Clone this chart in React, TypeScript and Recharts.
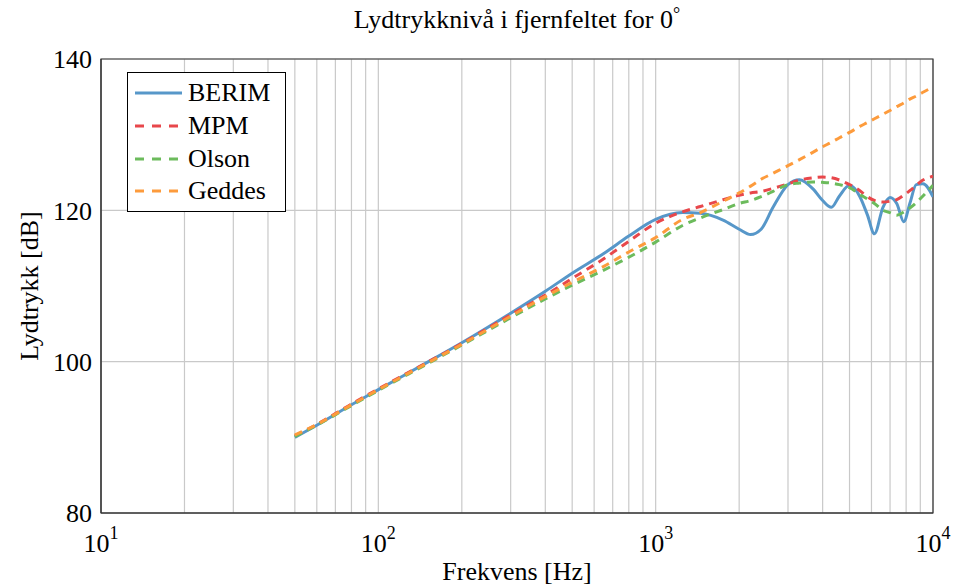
import React from 'react';
import {
  LineChart,
  Line,
  XAxis,
  YAxis,
  CartesianGrid,
  Legend,
  ReferenceArea
} from 'recharts';

// frequency points (Hz) and levels (dB)
const freqs = [50, 60, 80, 100, 150, 200, 300, 400, 500, 650, 800, 1000, 1250, 1450, 1750, 2000, 2200, 2400, 2650, 3000, 3300, 3700, 4000, 4300, 4600, 5000, 5450, 5800, 6150, 6600, 7000, 7400, 7850, 8250, 8700, 9200, 10000];

const berim = [90.0, 91.6, 94.3, 96.3, 99.9, 102.5, 106.4, 109.3, 111.7, 114.3, 116.6, 118.8, 119.7, 119.6, 118.7, 117.5, 116.8, 117.5, 120.4, 123.4, 124.05, 122.8, 121.3, 120.4, 121.9, 123.3, 121.8, 119.4, 116.9, 120.4, 121.7, 120.9, 118.5, 120.9, 123.4, 123.5, 121.8];
const mpm = [90.2, 91.7, 94.4, 96.4, 99.9, 102.4, 106.2, 108.8, 111.0, 113.6, 115.9, 118.3, 119.8, 120.5, 121.4, 122.0, 122.3, 122.5, 122.9, 123.5, 124.0, 124.3, 124.4, 124.3, 124.0, 123.4, 122.6, 121.8, 121.3, 121.1, 121.2, 121.4, 122.0, 122.6, 123.3, 124.0, 124.5];
const olson = [90.1, 91.6, 94.2, 96.2, 99.7, 102.2, 105.8, 108.3, 110.1, 112.1, 113.8, 115.8, 118.0, 119.0, 120.1, 120.9, 121.3, 121.8, 122.5, 123.4, 123.6, 123.75, 123.7, 123.6, 123.4, 123.0, 122.1, 121.5, 120.9, 120.0, 119.7, 119.35, 119.8, 120.3, 121.0, 121.9, 123.3];
const geddes = [90.3, 91.7, 94.3, 96.3, 99.8, 102.3, 106.0, 108.6, 110.5, 112.6, 114.5, 116.4, 118.8, 119.7, 121.2, 122.3, 123.2, 124.1, 124.9, 125.9, 126.7, 127.7, 128.4, 129.0, 129.6, 130.3, 131.1, 131.6, 132.1, 132.7, 133.2, 133.7, 134.2, 134.7, 135.1, 135.6, 136.3];

const xTicks = [10, 20, 30, 40, 50, 60, 70, 80, 90, 100, 200, 300, 400, 500, 600, 700, 800, 900, 1000, 2000, 3000, 4000, 5000, 6000, 7000, 8000, 9000, 10000];
const yTicks = [80, 100, 120, 140];

const seriesInfo = [
  { key: 'berim', name: 'BERIM', color: '#5797c9', dash: undefined },
  { key: 'mpm', name: 'MPM', color: '#e8474b', dash: '8 6' },
  { key: 'olson', name: 'Olson', color: '#6cbb5c', dash: '8 6' },
  { key: 'geddes', name: 'Geddes', color: '#fd9b3c', dash: '8 6' },
];

const chartData = freqs.map((f, i) => ({
  f,
  berim: berim[i],
  mpm: mpm[i],
  olson: olson[i],
  geddes: geddes[i],
}));

const FONT = "'Liberation Serif', 'Times New Roman', serif";

const exponents: Record<number, string> = { 10: '1', 100: '2', 1000: '3', 10000: '4' };

const XTick = ({ x, y, payload }: any) => {
  const exp = exponents[payload.value];
  if (!exp) return null;
  return (
    <text x={x} y={y + 39} textAnchor="middle" fontFamily={FONT} fontSize={26} fill="#000">
      10<tspan dy={-13} fontSize={18}>{exp}</tspan>
    </text>
  );
};

const LegendBox = () => (
  <div
    style={{
      border: '1px solid #000',
      background: '#fff',
      width: 159,
      height: 140,
      boxSizing: 'border-box',
      paddingTop: 4,
      fontFamily: FONT,
      fontSize: 26,
      color: '#000',
    }}
  >
    {seriesInfo.map(s => (
      <div key={s.key} style={{ display: 'flex', alignItems: 'center', height: 32.7 }}>
        <svg width={60} height={10} style={{ flexShrink: 0 }}>
          <line x1={7} x2={54} y1={5} y2={5} stroke={s.color} strokeWidth={3} strokeDasharray={s.dash ? '9 8' : undefined} />
        </svg>
        <span style={{ lineHeight: '26px' }}>{s.name}</span>
      </div>
    ))}
  </div>
);

export default function App() {
  return (
    <div style={{ position: 'absolute', left: 0, top: 0, width: 956, height: 587, background: '#fff' }}>
      <div
        style={{
          position: 'absolute', left: 517, top: 20, transform: 'translate(-50%, -50%)',
          fontFamily: FONT, fontSize: 26, whiteSpace: 'nowrap', color: '#000',
        }}
      >
        Lydtrykknivå i fjernfeltet for 0<sup style={{ fontSize: 18, verticalAlign: 'top', lineHeight: '18px' }}>°</sup>
      </div>
      <div
        style={{
          position: 'absolute', left: 517, top: 572, transform: 'translate(-50%, -50%)',
          fontFamily: FONT, fontSize: 26, whiteSpace: 'nowrap', color: '#000',
        }}
      >
        Frekvens [Hz]
      </div>
      <div
        style={{
          position: 'absolute', left: 30, top: 286, transform: 'translate(-50%, -50%) rotate(-90deg)',
          fontFamily: FONT, fontSize: 26, whiteSpace: 'nowrap', color: '#000',
        }}
      >
        Lydtrykk [dB]
      </div>
      <LineChart width={956} height={587} data={chartData} margin={{ top: 59, right: 23, bottom: 0, left: 0 }}>
        <CartesianGrid stroke="#c9c9c9" strokeWidth={1.2} />
        <XAxis
          dataKey="f"
          type="number"
          scale="log"
          domain={[10, 10000]}
          ticks={xTicks}
          allowDataOverflow
          interval={0}
          height={74}
          tickSize={0}
          tickMargin={0}
          tickLine={false}
          axisLine={{ stroke: '#333' }}
          tick={<XTick />}
        />
        <YAxis
          type="number"
          domain={[80, 140]}
          ticks={yTicks}
          width={101}
          tickSize={0}
          tickMargin={9}
          tickLine={false}
          axisLine={{ stroke: '#333' }}
          tick={{ fontFamily: FONT, fontSize: 26, fill: '#000' }}
        />
        <ReferenceArea x1={10} x2={10000} y1={80} y2={140} fill="none" fillOpacity={0} stroke="#333" strokeWidth={1.2} ifOverflow="visible" />
        {seriesInfo.map(s => (
          <Line
            key={s.key}
            type="monotone"
            dataKey={s.key}
            name={s.name}
            stroke={s.color}
            strokeWidth={3}
            strokeDasharray={s.dash}
            dot={false}
            isAnimationActive={false}
          />
        ))}
        <Legend
          layout="horizontal"
          verticalAlign="middle"
          align="center"
          content={<LegendBox />}
          wrapperStyle={{ left: 127, top: 72, width: 159, height: 140 }}
        />
      </LineChart>
    </div>
  );
}
